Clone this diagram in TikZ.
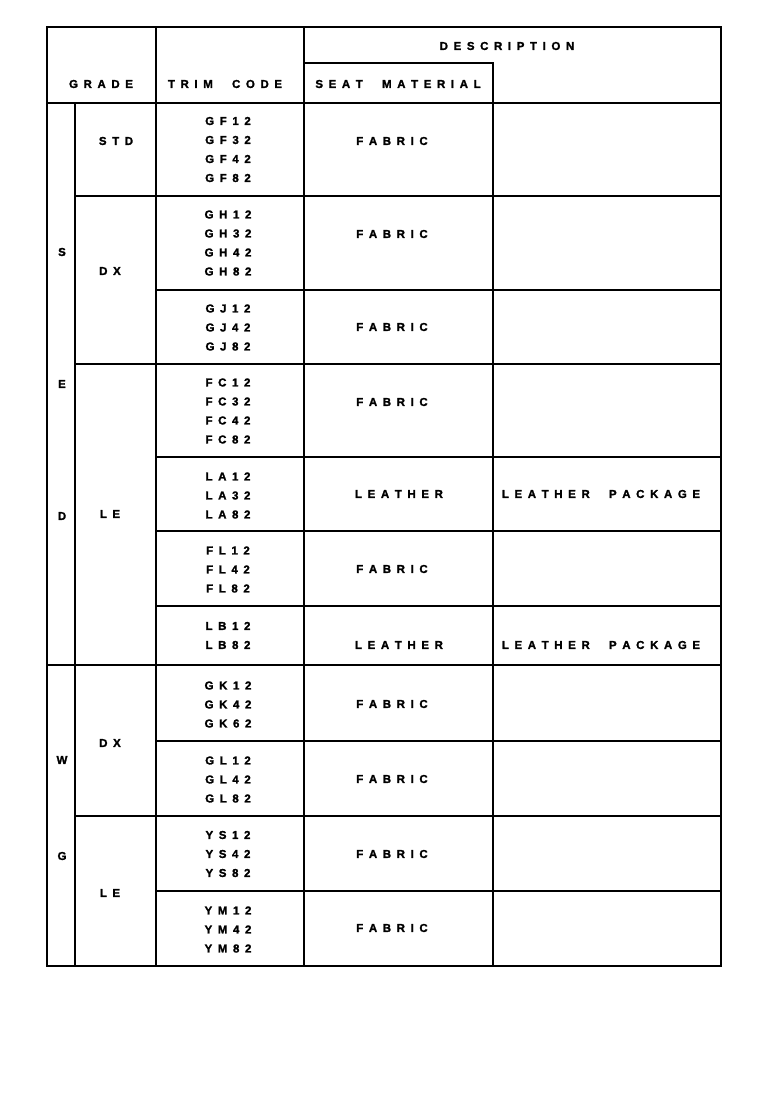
\documentclass[tikz,border=0pt]{standalone}
\usepackage{fontspec}
\newfontfamily\tabfont{Liberation Sans Bold}[FakeBold=1.5]
\makeatletter
\newlength\lsp \setlength\lsp{5.6pt}
\newcommand\wsp{\hspace{8pt}}
\newcommand\spaced[1]{\let\sp@sep\relax\@tfor\sp@c:=#1\do{\sp@sep\sp@c\def\sp@sep{\hspace{\lsp}}}}
\makeatother
\begin{document}
\begin{tikzpicture}[x=1pt,y=-1pt,
  rule/.style={line width=1.7pt,line cap=rect},
  txt/.style={font=\tabfont\fontsize{11.5}{19}\selectfont,inner sep=0pt,align=center}]
\useasboundingbox (0,0) rectangle (760,1112);
% outer frame
\draw[rule] (47,27) rectangle (721,966);
% vertical rules
\draw[rule] (75,103) -- (75,966);
\draw[rule] (156,27) -- (156,966);
\draw[rule] (304,27) -- (304,966);
\draw[rule] (493,63) -- (493,966);
% horizontal rules
\draw[rule] (304,63) -- (493,63);
\draw[rule] (47,103) -- (721,103);
\draw[rule] (75,196) -- (721,196);
\draw[rule] (156,290) -- (721,290);
\draw[rule] (75,364) -- (721,364);
\draw[rule] (156,457) -- (721,457);
\draw[rule] (156,531) -- (721,531);
\draw[rule] (156,606) -- (721,606);
\draw[rule] (47,665) -- (721,665);
\draw[rule] (156,741) -- (721,741);
\draw[rule] (75,816) -- (721,816);
\draw[rule] (156,891) -- (721,891);
% headers
\node[txt] (hdesc) at (507,46) {\spaced{DESCRIPTION}};
\node[txt] (hseat) at (398,84) {\spaced{SEAT\wsp MATERIAL}};
\node[txt] (hgrade) at (101,84) {\spaced{GRADE}};
\node[txt] (htrim) at (225,84) {\spaced{TRIM\wsp CODE}};
% model letters
\node[txt] (mS) at (62,252) {S};
\node[txt] (mE) at (62,384) {E};
\node[txt] (mD) at (62,516) {D};
\node[txt] (mW) at (62,760) {W};
\node[txt] (mG) at (62,856) {G};
% grades
\node[txt] (gstd) at (116,141) {\spaced{STD}};
\node[txt] (gdx1) at (110,271) {\spaced{DX}};
\node[txt] (gle1) at (110,514) {\spaced{LE}};
\node[txt] (gdx2) at (110,743) {\spaced{DX}};
\node[txt] (gle2) at (110,893) {\spaced{LE}};
% trim codes
\node[txt] (c1) at (228,149.5) {\spaced{GF12}\\\spaced{GF32}\\\spaced{GF42}\\\spaced{GF82}};
\node[txt] (c2) at (228,243) {\spaced{GH12}\\\spaced{GH32}\\\spaced{GH42}\\\spaced{GH82}};
\node[txt] (c3) at (228,327.5) {\spaced{GJ12}\\\spaced{GJ42}\\\spaced{GJ82}};
\node[txt] (c4) at (228,411) {\spaced{FC12}\\\spaced{FC32}\\\spaced{FC42}\\\spaced{FC82}};
\node[txt] (c5) at (228,495.5) {\spaced{LA12}\\\spaced{LA32}\\\spaced{LA82}};
\node[txt] (c6) at (228,569.5) {\spaced{FL12}\\\spaced{FL42}\\\spaced{FL82}};
\node[txt] (c7) at (228,635.5) {\spaced{LB12}\\\spaced{LB82}};
\node[txt] (c8) at (228,704.5) {\spaced{GK12}\\\spaced{GK42}\\\spaced{GK62}};
\node[txt] (c9) at (228,779.5) {\spaced{GL12}\\\spaced{GL42}\\\spaced{GL82}};
\node[txt] (c10) at (228,854) {\spaced{YS12}\\\spaced{YS42}\\\spaced{YS82}};
\node[txt] (c11) at (228,929.5) {\spaced{YM12}\\\spaced{YM42}\\\spaced{YM82}};
% seat materials
\node[txt] (s1) at (392,141) {\spaced{FABRIC}};
\node[txt] (s2) at (392,234) {\spaced{FABRIC}};
\node[txt] (s3) at (392,327) {\spaced{FABRIC}};
\node[txt] (s4) at (392,402) {\spaced{FABRIC}};
\node[txt] (s5) at (399,494) {\spaced{LEATHER}};
\node[txt] (s6) at (392,569) {\spaced{FABRIC}};
\node[txt] (s7) at (399,645) {\spaced{LEATHER}};
\node[txt] (s8) at (392,704) {\spaced{FABRIC}};
\node[txt] (s9) at (392,779) {\spaced{FABRIC}};
\node[txt] (s10) at (392,854) {\spaced{FABRIC}};
\node[txt] (s11) at (392,928) {\spaced{FABRIC}};
% descriptions
\node[txt] (d5) at (601,494) {\spaced{LEATHER\wsp PACKAGE}};
\node[txt] (d7) at (601,645) {\spaced{LEATHER\wsp PACKAGE}};
\end{tikzpicture}
\end{document}
